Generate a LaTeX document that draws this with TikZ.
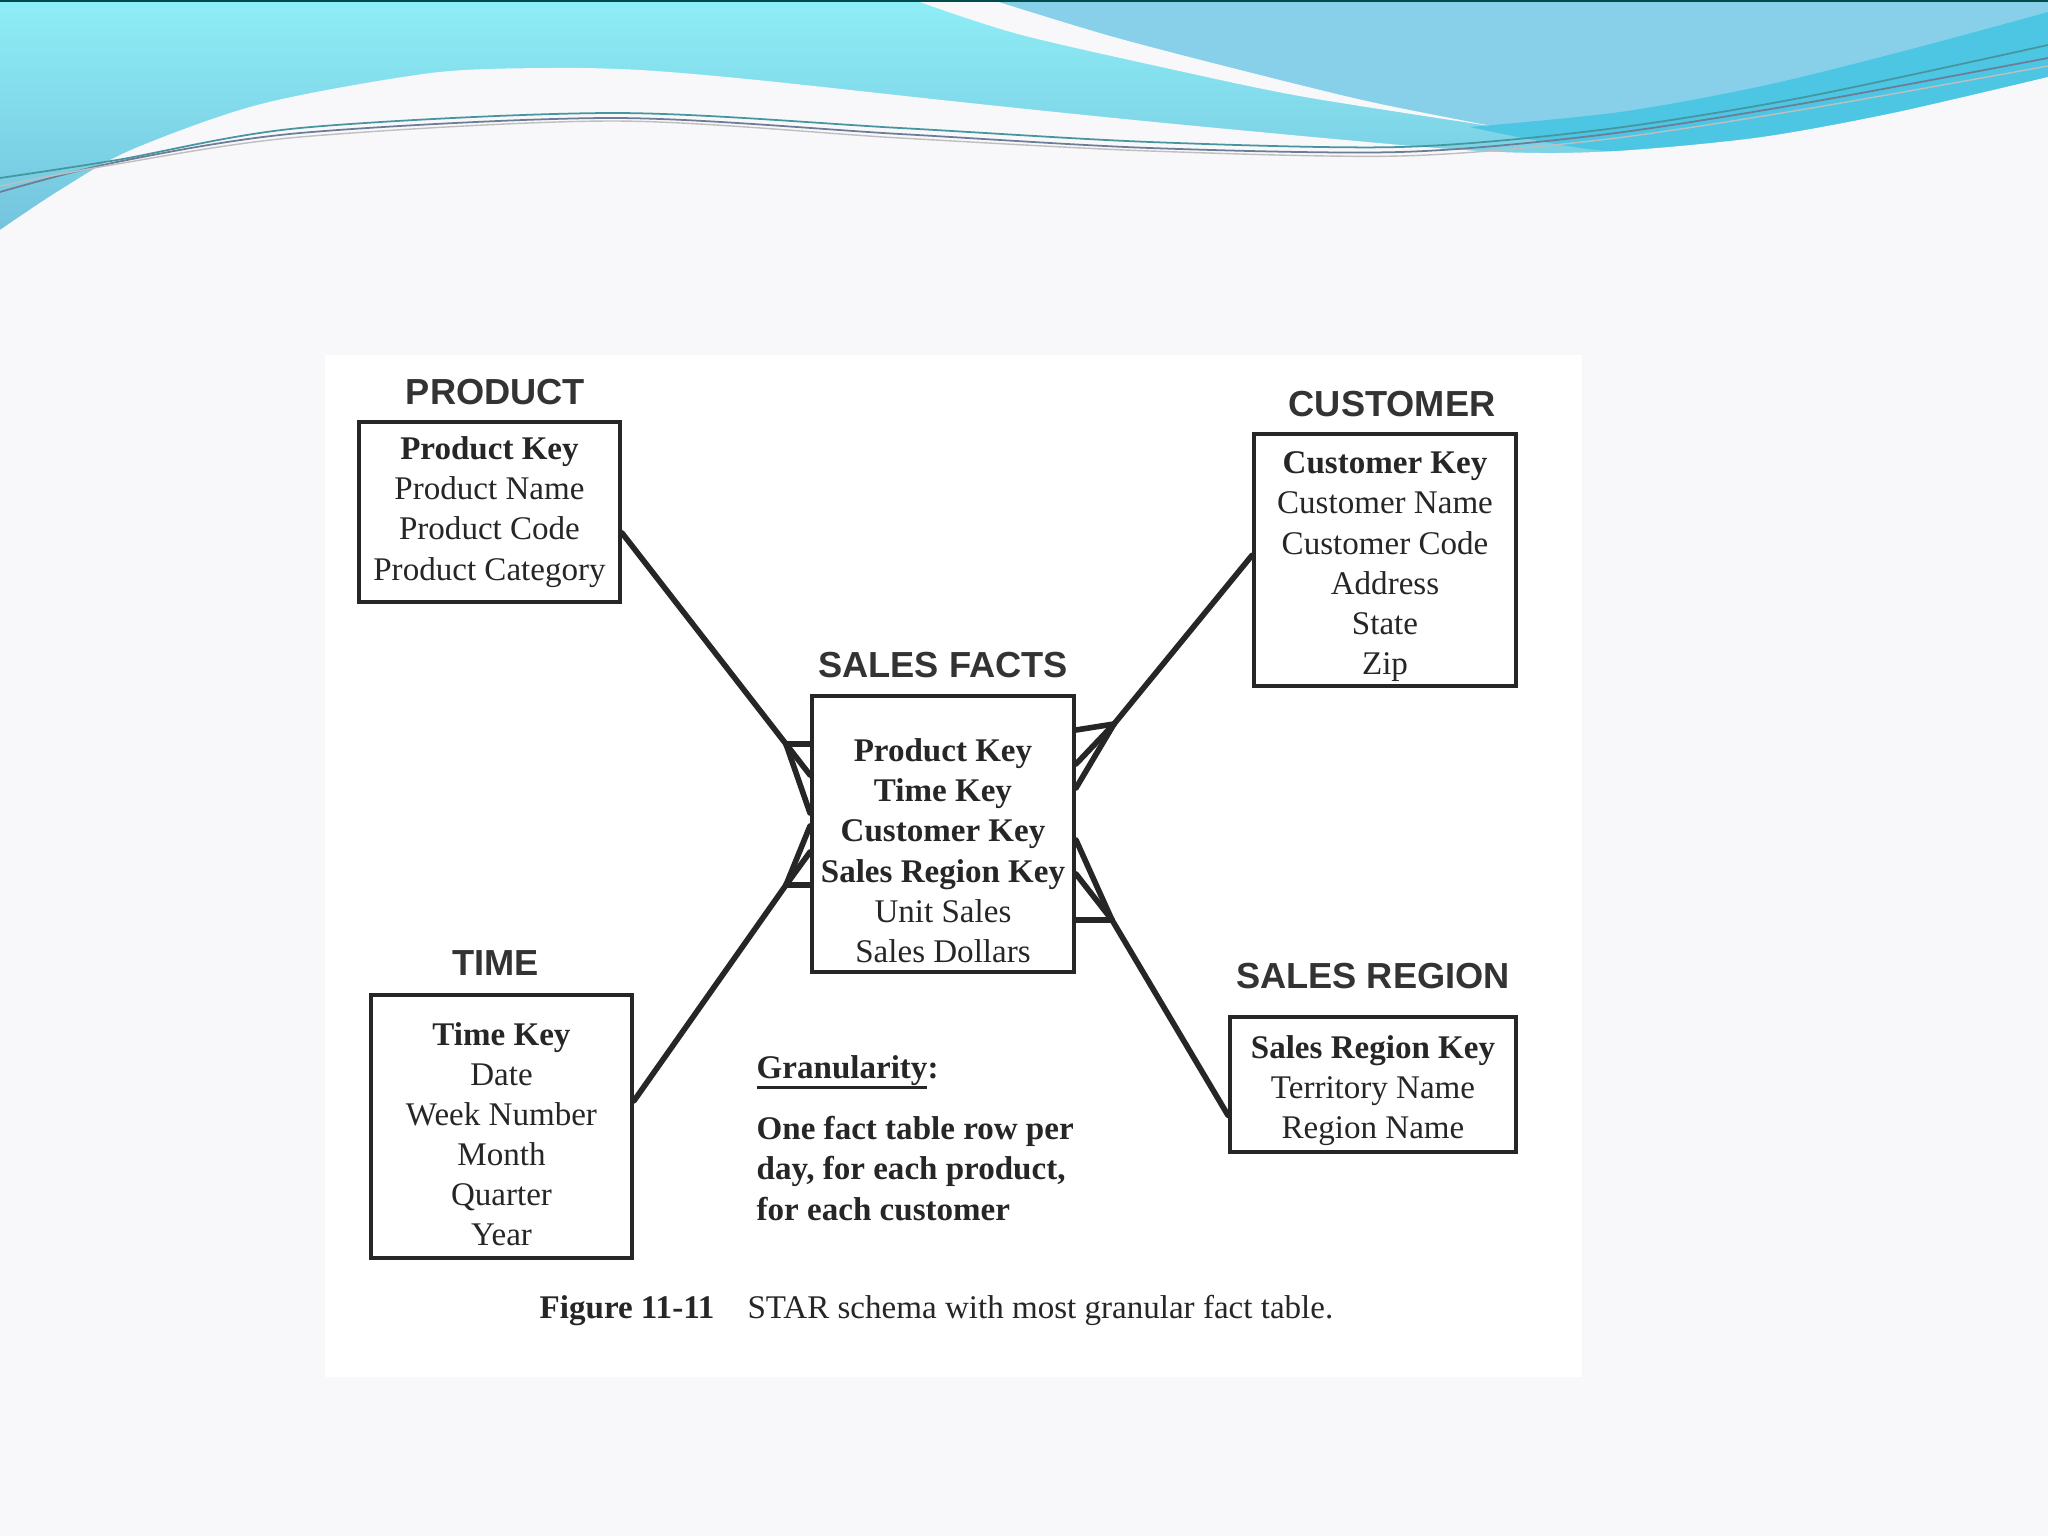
\documentclass[tikz,border=0pt]{standalone}
\usepackage{fontspec}
\setmainfont{Liberation Serif}
\newfontfamily\headfont{Liberation Sans}
\usetikzlibrary{positioning, calc}

\definecolor{pagebg}{RGB}{248,248,250}
\definecolor{waveA}{RGB}{142,238,246}
\definecolor{waveB}{RGB}{112,190,218}
\definecolor{skyblue}{RGB}{136,208,234}
\definecolor{ribbon}{RGB}{76,198,226}
\definecolor{threadA}{RGB}{70,150,160}
\definecolor{threadB}{RGB}{110,125,150}
\definecolor{ink}{RGB}{38,38,38}

% thick underline for the granularity heading
\newcommand{\thickul}[1]{\setbox0\hbox{#1}\rlap{\rule[-3pt]{\wd0}{0.9pt}}\box0}

\begin{document}
\begin{tikzpicture}[
    x=0.01cm, y=-0.01cm,
    table/.style={draw=ink, line width=1.1pt, fill=white, align=center, inner sep=0pt,
                  font=\fontsize{9.4}{11.4}\selectfont, text=ink},
    title/.style={font=\headfont\bfseries\fontsize{10.3}{12}\selectfont, text=black!80, inner sep=0pt},
    note/.style={font=\fontsize{9.4}{11.4}\selectfont, text=ink, inner sep=0pt},
    link/.style={draw=ink, line width=1.6pt, line cap=round, line join=round}
]
    \useasboundingbox (0,0) rectangle (2048,1536);

    % Slide background and header waves
    \fill[pagebg] (0,0) rectangle (2048,1536);
    \shade[top color=waveA, bottom color=waveB] (0,0) rectangle (2048,260);
    \fill[skyblue] plot[smooth] coordinates {(992,0) (1110,36) (1240,70) (1371,102) (1500,127) (1620,112) (1762,86) (1900,52) (2048,12)} -- (2048,0) -- cycle;
    \fill[pagebg] plot[smooth] coordinates {(914,0) (1018,34) (1175,70) (1305,97) (1497,127)} -- plot[smooth] coordinates {(1497,127) (1371,102) (1240,70) (1110,36) (992,0)} -- cycle;
    \fill[ribbon] plot[smooth] coordinates {(1470,127) (1620,112) (1762,86) (1900,52) (2048,12)} -- (2048,100) -- plot[smooth] coordinates {(1800,138) (1620,152) (1470,127)} -- cycle;
    \fill[pagebg] plot[smooth] coordinates {(0,230) (60,190) (131,150) (261,104) (431,73) (548,68) (640,70) (757,80) (979,104) (1175,124) (1436,148) (1540,153) (1632,150) (1762,137) (1893,113) (2048,77)} -- (2048,1536) -- (0,1536) -- cycle;
    \draw[threadA, line width=0.5pt] plot[smooth] coordinates {(0,178) (117,160) (300,128) (614,113) (900,128) (1150,142) (1400,147) (1600,130) (1800,98) (2048,45)};
    \draw[threadB, line width=0.5pt] plot[smooth] coordinates {(0,192) (117,162) (300,133) (614,118) (900,134) (1150,148) (1400,152) (1600,135) (1800,104) (2048,58)};
    \draw[gray!50, line width=0.4pt] plot[smooth] coordinates {(0,186) (117,164) (300,137) (614,121) (900,138) (1150,151) (1400,156) (1600,140) (1800,110) (2048,66)};
    \draw[teal!60!black, line width=0.6pt] (0,1) -- (2048,1);

    % Figure panel
    \fill[white] (325,355) rectangle (1582,1377);

    % Dimension and fact tables
    \node[table, minimum width=2.61cm, minimum height=1.80cm] (product) at (489.5,512)
        {\textbf{Product Key}\\Product Name\\Product Code\\Product Category};
    \node[table, minimum width=2.62cm, minimum height=2.52cm] (customer) at (1385,560)
        {\rule{0pt}{10pt}\textbf{Customer Key}\\Customer Name\\Customer Code\\Address\\State\\Zip};
    \node[table, minimum width=2.62cm, minimum height=2.76cm] (facts) at (943,834)
        {\rule{0pt}{16pt}\textbf{Product Key}\\\textbf{Time Key}\\\textbf{Customer Key}\\\textbf{Sales Region Key}\\Unit Sales\\Sales Dollars};
    \node[table, minimum width=2.61cm, minimum height=2.63cm] (time) at (501.5,1126.5)
        {\rule{0pt}{11pt}\textbf{Time Key}\\Date\\Week Number\\Month\\Quarter\\Year};
    \node[table, minimum width=2.86cm, minimum height=1.35cm] (region) at (1373,1084.5)
        {\rule{0pt}{10pt}\textbf{Sales Region Key}\\Territory Name\\Region Name};

    % Table titles
    \node[title, above=0.16cm of product, anchor=base, xshift=0.06cm] (producttitle) {PRODUCT};
    \node[title, above=0.15cm of customer, anchor=base, xshift=0.07cm] (customertitle) {CUSTOMER};
    \node[title, above=0.16cm of facts, anchor=base] (factstitle) {SALES FACTS};
    \node[title, above=0.17cm of time, anchor=base, xshift=-0.06cm] (timetitle) {TIME};
    \node[title, above=0.27cm of region, anchor=base] (regiontitle) {SALES REGION};

    % Crow's foot junctions
    \coordinate (pj) at ($(facts.north west)+(-24,50)$);
    \coordinate (tj) at ($(facts.north west)+(-24,191)$);
    \coordinate (cj) at ($(facts.north east)+(38,30)$);
    \coordinate (rj) at ($(facts.north east)+(36,226)$);

    % Product to facts
    \draw[link] (product.-9) -- (pj);
    \draw[link] (pj) -- ($(facts.north west)+(0,50)$);
    \draw[link] (pj) -- ($(facts.north west)+(0,81)$);
    \draw[link] (pj) -- ($(facts.north west)+(0,119)$);

    % Time to facts
    \draw[link] (time.11) -- (tj);
    \draw[link] (tj) -- ($(facts.north west)+(0,191)$);
    \draw[link] (tj) -- ($(facts.north west)+(0,158)$);
    \draw[link] (tj) -- ($(facts.north west)+(0,132)$);

    % Customer to facts
    \draw[link] (customer.178) -- (cj);
    \draw[link] (cj) -- ($(facts.north east)+(0,36)$);
    \draw[link] (cj) -- ($(facts.north east)+(0,70)$);
    \draw[link] (cj) -- ($(facts.north east)+(0,94)$);

    % Sales region to facts
    \draw[link] (region.192) -- (rj);
    \draw[link] (rj) -- ($(facts.north east)+(0,226)$);
    \draw[link] (rj) -- ($(facts.north east)+(0,180)$);
    \draw[link] (rj) -- ($(facts.north east)+(0,146)$);

    % Granularity note and caption
    \node[note, anchor=base west, align=left] (grain) at (756,1220)
        {\textbf{\thickul{Granularity}:}\\[6pt]\textbf{One fact table row per}\\\textbf{day, for each product,}\\\textbf{for each customer}};
    \node[note, anchor=base west] (caption) at (539,1318)
        {\textbf{Figure 11-11}\quad STAR schema with most granular fact table.};
\end{tikzpicture}
\end{document}
